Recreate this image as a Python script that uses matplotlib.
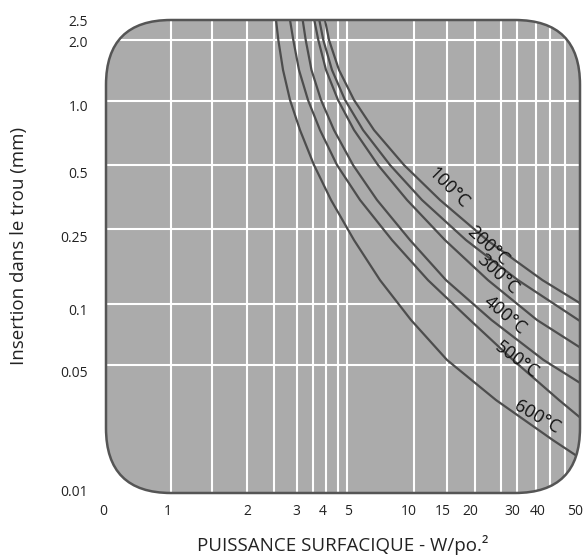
import numpy as np
import matplotlib
matplotlib.use("Agg")
import matplotlib.pyplot as plt
from matplotlib.patches import FancyBboxPatch
import matplotlib.transforms as mtransforms

plt.rcParams['font.family'] = ['Open Sans', 'DejaVu Sans']

# ---------------- data ----------------
X_TICKS = [0, 1, 2, 3, 4, 5, 10, 15, 20, 30, 40, 50]
X_TICK_LABELS = ["0", "1", "2", "3", "4", "5", "10", "15", "20", "30", "40", "50"]
Y_TICKS = [0.01, 0.05, 0.1, 0.25, 0.5, 1.0, 2.0, 2.5]
Y_TICK_LABELS = ["0.01", "0.05", "0.1", "0.25", "0.5", "1.0", "2.0", "2.5"]
X_GRID = [1, 1.5, 2, 2.5, 3, 3.5, 4, 4.5, 5, 10, 15, 20, 25, 30, 35, 40, 45]
Y_GRID = [0.05, 0.1, 0.25, 0.5, 1.0, 2.0]

labels = ["100°C", "200°C", "300°C", "400°C", "500°C", "600°C"]

x100 = [3.970, 4.132, 4.565, 5.361, 6.598, 9.013, 13.72, 22.20, 37.29, 50]
y100 = [2.5, 2.0, 1.42, 1.008, 0.729, 0.5, 0.343, 0.219, 0.134, 0.101]

x200 = [3.734, 3.898, 4.255, 4.876, 5.886, 7.794, 11.02, 18.22, 30.18, 50]
y200 = [2.5, 2.0, 1.42, 1.008, 0.729, 0.5, 0.343, 0.219, 0.134, 0.0823]

x300 = [3.538, 3.694, 4.012, 4.515, 5.361, 6.878, 9.299, 14.59, 22.39, 35.43, 50]
y300 = [2.5, 2.0, 1.42, 1.008, 0.729, 0.5, 0.343, 0.219, 0.134, 0.0833, 0.0609]

x400 = [3.172, 3.262, 3.442, 3.803, 4.339, 5.306, 6.807, 9.593, 14.77, 23.08, 37.64, 50]
y400 = [2.5, 2.0, 1.42, 1.008, 0.729, 0.5, 0.343, 0.219, 0.134, 0.0833, 0.0528, 0.0398]

x500 = [2.841, 2.918, 3.065, 3.332, 3.762, 4.469, 5.706, 7.958, 11.86, 18.99, 28.61, 42.93, 50]
y500 = [2.5, 2.0, 1.42, 1.008, 0.729, 0.5, 0.343, 0.219, 0.134, 0.0833, 0.0528, 0.0321, 0.0258]

x600 = [2.535, 2.583, 2.684, 2.841, 3.093, 3.527, 4.214, 5.361, 7.024, 9.693, 14.95, 24.00, 40.96, 50]
y600 = [2.5, 2.0, 1.42, 1.008, 0.729, 0.5, 0.343, 0.219, 0.134, 0.0833, 0.0528, 0.0321, 0.0194, 0.0155]

series_x = [x100, x200, x300, x400, x500, x600]
series_y = [y100, y200, y300, y400, y500, y600]

# ---------------- custom (hand-drawn) axis scales ----------------
XK = np.array([1, 1.5, 2, 2.5, 3, 3.5, 4, 4.5, 5, 10, 15, 20, 25, 30, 35, 40, 45, 50], float)
XF = np.array([0.1365, 0.2230, 0.2981, 0.3551, 0.4023, 0.4373, 0.4635, 0.4888, 0.5091,
               0.6498, 0.7200, 0.7785, 0.8327, 0.8677, 0.9065, 0.9367, 0.9684, 1.0])
YK = np.array([0.01, 0.05, 0.1, 0.25, 0.5, 1.0, 2.0, 2.5])
YF = np.array([0.0, 0.2712, 0.3996, 0.5575, 0.6934, 0.8294, 0.9577, 1.0])


def fwd_x(x):
    x = np.asarray(x, dtype=float)
    safe = np.where(x > 0, x, 1.0)
    hi = np.interp(np.log10(safe), np.log10(XK), XF)
    lo = x * XF[0]
    return np.where(x >= 1, hi, lo)


def inv_x(f):
    f = np.asarray(f, dtype=float)
    hi = 10 ** np.interp(f, XF, np.log10(XK))
    lo = f / XF[0]
    return np.where(f >= XF[0], hi, lo)


def fwd_y(y):
    y = np.asarray(y, dtype=float)
    safe = np.where(y > 0, y, 1e-6)
    return np.interp(np.log10(safe), np.log10(YK), YF)


def inv_y(f):
    f = np.asarray(f, dtype=float)
    return 10 ** np.interp(f, YF, np.log10(YK))


# ---------------- figure ----------------
W, H = 587, 557
fig = plt.figure(figsize=(W / 100, H / 100), dpi=100)
ax = fig.add_axes([106 / W, 1 - 493 / H, 474 / W, 473 / H])
ax.set_xscale('function', functions=(fwd_x, inv_x))
ax.set_yscale('function', functions=(fwd_y, inv_y))
ax.set_xlim(0, 50)
ax.set_ylim(0.01, 2.5)
ax.set_facecolor('none')
for s in ax.spines.values():
    s.set_visible(False)

bg = FancyBboxPatch((0, 0), 1, 1, boxstyle="round,pad=0,rounding_size=0.137",
                    transform=ax.transAxes, facecolor='#ababab', edgecolor='none',
                    zorder=0)
ax.add_patch(bg)
border = FancyBboxPatch((0, 0), 1, 1, boxstyle="round,pad=0,rounding_size=0.137",
                        transform=ax.transAxes, facecolor='none', edgecolor='#555555',
                        linewidth=1.8, zorder=5, clip_on=False)
ax.add_patch(border)

for v in X_GRID:
    ln = ax.axvline(v, color='white', lw=1.5, zorder=1)
    ln.set_clip_path(bg)
for v in Y_GRID:
    ln = ax.axhline(v, color='white', lw=1.5, zorder=1)
    ln.set_clip_path(bg)

for xs, ys in zip(series_x, series_y):
    ln, = ax.plot(xs, ys, color='#4d4d4d', lw=1.6, zorder=3,
                  solid_joinstyle='round', solid_capstyle='round')
    ln.set_clip_path(bg)

# curve labels (placed in axes fraction)
label_pos = [(0.722, 0.645), (0.806, 0.522), (0.827, 0.463),
             (0.842, 0.376), (0.867, 0.281), (0.909, 0.161)]
label_rot = [-45, -42, -43, -40, -37, -30]
for t, (px, py), r in zip(labels, label_pos, label_rot):
    ax.text(px, py, t, transform=ax.transAxes, rotation=r, rotation_mode='anchor',
            ha='center', va='center', fontsize=13, color='#111111', zorder=4)

ax.set_xticks(X_TICKS)
ax.set_xticklabels(X_TICK_LABELS)
ax.set_yticks(Y_TICKS)
ax.set_yticklabels(Y_TICK_LABELS)
ax.minorticks_off()
ax.tick_params(axis='both', length=0, labelsize=10, colors='#222222')
ax.tick_params(axis='x', pad=8)
ax.tick_params(axis='y', pad=13)

# small hand-placement offsets of the tick labels (pixels)
x_lab_dx = [-3, -2.7, 0, 0, -2.7, 1, -5.3, -4, -4.7, -5.3, -12, -5.3]
y_lab_dy = [3, -6.3, -5.5, -6.7, -7, -4.6, -1.5, -0.5]
for lab, dx in zip(ax.get_xticklabels(), x_lab_dx):
    lab.set_transform(lab.get_transform() +
                      mtransforms.ScaledTranslation(dx / 100, 0, fig.dpi_scale_trans))
for lab, dy in zip(ax.get_yticklabels(), y_lab_dy):
    lab.set_transform(lab.get_transform() +
                      mtransforms.ScaledTranslation(0, dy / 100, fig.dpi_scale_trans))

fig.text(19.5 / W, 1 - 246 / H, "Insertion dans le trou (mm)", rotation=90,
         ha='center', va='center', fontsize=13.5, color='#222222')
fig.text(343 / W, 1 - 545 / H, "PUISSANCE SURFACIQUE - W/po.²",
         ha='center', va='center', fontsize=13.5, color='#222222')

fig.savefig("out.png", dpi=100)
